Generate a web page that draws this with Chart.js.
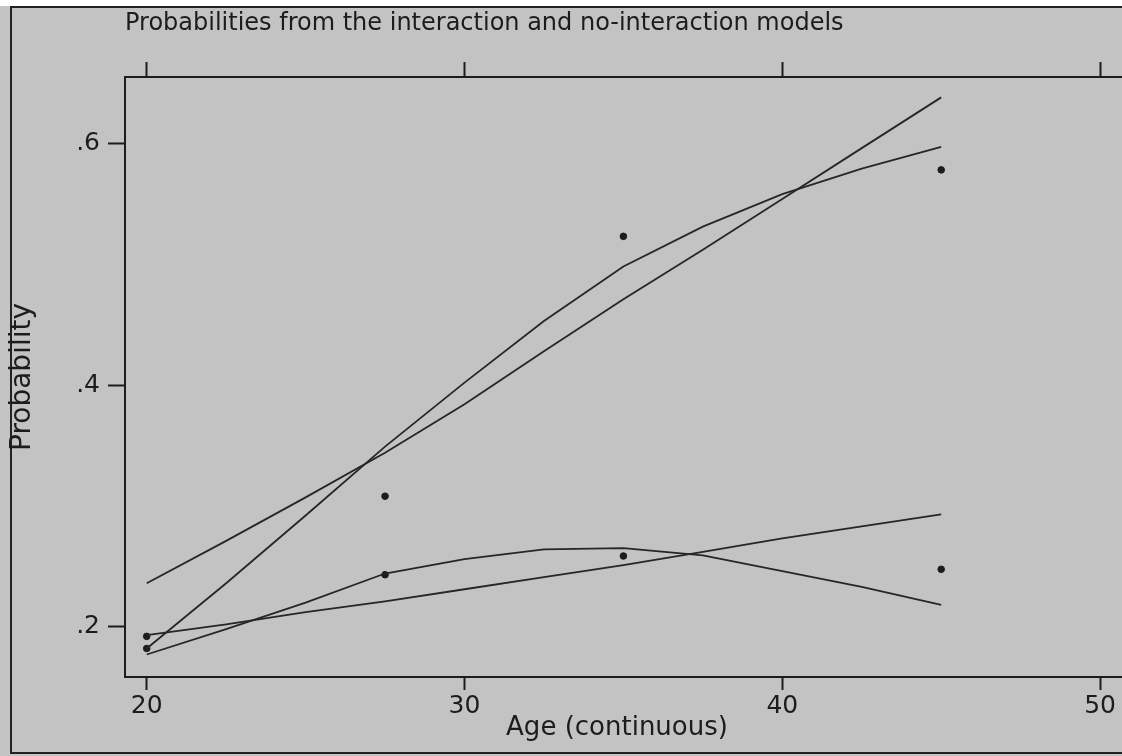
<!DOCTYPE html>
<html>
<head>
<meta charset="utf-8">
<title>Probabilities from the interaction and no-interaction models</title>
<script src="https://cdn.jsdelivr.net/npm/chart.js@4.4.1/dist/chart.umd.min.js"></script>
<style>
  html, body { margin: 0; padding: 0; overflow: hidden; background: #c3c3c3; }
  #strip { position: absolute; left: 0; top: 0; width: 1122px; height: 6px; background: #ffffff; }
  #frame { position: absolute; left: 10px; top: 6px; width: 1140px; height: 744px;
           border-left: 2px solid #222; border-top: 2px solid #222; border-bottom: 2px solid #222; }
  #plot { position: absolute; left: 0; top: 0; }
  /* the plot frame runs on past the right edge of the page */
  .runon { position: absolute; left: 1108px; width: 30px; height: 2px; background: #1c1c1c; }
</style>
</head>
<body>
<div id="strip"></div>
<div id="frame"></div>
<canvas id="plot" width="1140" height="756"></canvas>
<div class="runon" style="top:76px"></div>
<div class="runon" style="top:676px"></div>
<script>
// Ages at which the fitted curves are drawn
const fitAges = [20, 22.5, 25, 27.5, 30, 32.5, 35, 37.5, 40, 42.5, 45];

// Fitted probabilities, upper group
const noInteractionUpper = [0.236, 0.271, 0.307, 0.344, 0.384, 0.428, 0.471, 0.512, 0.554, 0.596, 0.638];
const interactionUpper   = [0.182, 0.236, 0.292, 0.349, 0.402, 0.453, 0.498, 0.531, 0.558, 0.579, 0.597];

// Fitted probabilities, lower group
const noInteractionLower = [0.193, 0.202, 0.212, 0.221, 0.231, 0.241, 0.251, 0.262, 0.273, 0.283, 0.293];
const interactionLower   = [0.177, 0.198, 0.220, 0.244, 0.256, 0.264, 0.265, 0.259, 0.246, 0.233, 0.218];

// Observed proportions by age group
const obsAges  = [20, 27.5, 35, 45];
const obsUpper = [0.182, 0.308, 0.523, 0.578];
const obsLower = [0.192, 0.243, 0.2585, 0.2475];

// Axis ticks
const xTickValues = [20, 30, 40, 50];
const yTickValues = [0.2, 0.4, 0.6];

const INK = '#1c1c1c';
const LINE = '#262626';

const toXY = (xs, ys) => xs.map((x, i) => ({ x: x, y: ys[i] }));

const lineSet = (ys) => ({
  data: toXY(fitAges, ys),
  showLine: true,
  borderColor: LINE,
  borderWidth: 1.8,
  pointRadius: 0,
  tension: 0,
  fill: false
});

const pointSet = (ys) => ({
  data: toXY(obsAges, ys),
  showLine: false,
  pointRadius: 3.3,
  pointStyle: 'circle',
  pointBackgroundColor: INK,
  pointBorderColor: INK,
  pointBorderWidth: 1
});

const fixTicks = (values) => (scale) => {
  scale.ticks = values.map(v => ({ value: v }));
};

// keep the plot box fixed: no extra room reserved for overhanging labels
const fixSize = (prop, size) => (scale) => {
  scale[prop] = size;
  scale.paddingLeft = 0;
  scale.paddingRight = 0;
  scale.paddingTop = 0;
  scale.paddingBottom = 0;
};

const X_MIN = 19.317, X_MAX = 50.28;
const Y_MIN = 0.15838, Y_MAX = 0.65486;

new Chart(document.getElementById('plot'), {
  type: 'scatter',
  data: {
    datasets: [
      lineSet(noInteractionUpper),
      lineSet(interactionUpper),
      lineSet(noInteractionLower),
      lineSet(interactionLower),
      pointSet(obsUpper),
      pointSet(obsLower)
    ]
  },
  options: {
    responsive: false,
    animation: false,
    devicePixelRatio: 1,
    layout: { padding: { left: 0, top: 0, bottom: 0, right: 31 }, autoPadding: false },
    plugins: {
      legend: { display: false },
      tooltip: { enabled: false },
      title: {
        display: true,
        fullSize: false,
        align: 'start',
        text: 'Probabilities from the interaction and no-interaction models',
        color: INK,
        font: { family: '"DejaVu Sans", sans-serif', size: 24, weight: 'normal', lineHeight: 1.2 },
        padding: { top: 9.4, bottom: 23.8 }
      }
    },
    scales: {
      x: {
        type: 'linear',
        position: 'bottom',
        min: X_MIN,
        max: X_MAX,
        afterBuildTicks: fixTicks(xTickValues),
        afterFit: fixSize('height', 79),
        grid: { drawOnChartArea: false, drawTicks: true, tickLength: 13, tickWidth: 2, tickColor: INK },
        border: { display: true, color: INK, width: 2 },
        ticks: {
          color: INK,
          padding: 1,
          maxRotation: 0,
          autoSkip: false,
          font: { family: '"DejaVu Sans", sans-serif', size: 25 },
          callback: (v) => String(v)
        },
        title: {
          display: true,
          text: 'Age (continuous)',
          color: INK,
          font: { family: '"DejaVu Sans", sans-serif', size: 26, lineHeight: 1.2 },
          padding: { top: 0, bottom: 12.4 }
        }
      },
      xTop: {
        type: 'linear',
        position: 'top',
        min: X_MIN,
        max: X_MAX,
        afterBuildTicks: fixTicks(xTickValues),
        afterFit: fixSize('height', 15),
        grid: { drawOnChartArea: false, drawTicks: true, tickLength: 15, tickWidth: 2, tickColor: INK },
        border: { display: true, color: INK, width: 2 },
        ticks: { display: false }
      },
      y: {
        type: 'linear',
        position: 'left',
        min: Y_MIN,
        max: Y_MAX,
        afterBuildTicks: fixTicks(yTickValues),
        afterFit: fixSize('width', 125),
        grid: { drawOnChartArea: false, drawTicks: true, tickLength: 17, tickWidth: 2, tickColor: INK },
        border: { display: true, color: INK, width: 2 },
        ticks: {
          color: INK,
          padding: 8,
          autoSkip: false,
          font: { family: '"DejaVu Sans", sans-serif', size: 25 },
          callback: (v) => String(v).replace(/^0\./, '.')
        },
        title: {
          display: true,
          text: 'Probability',
          color: INK,
          font: { family: '"DejaVu Sans", sans-serif', size: 28, lineHeight: 1.2 },
          padding: { top: 6, bottom: 0 }
        }
      }
    }
  }
});
</script>
</body>
</html>
